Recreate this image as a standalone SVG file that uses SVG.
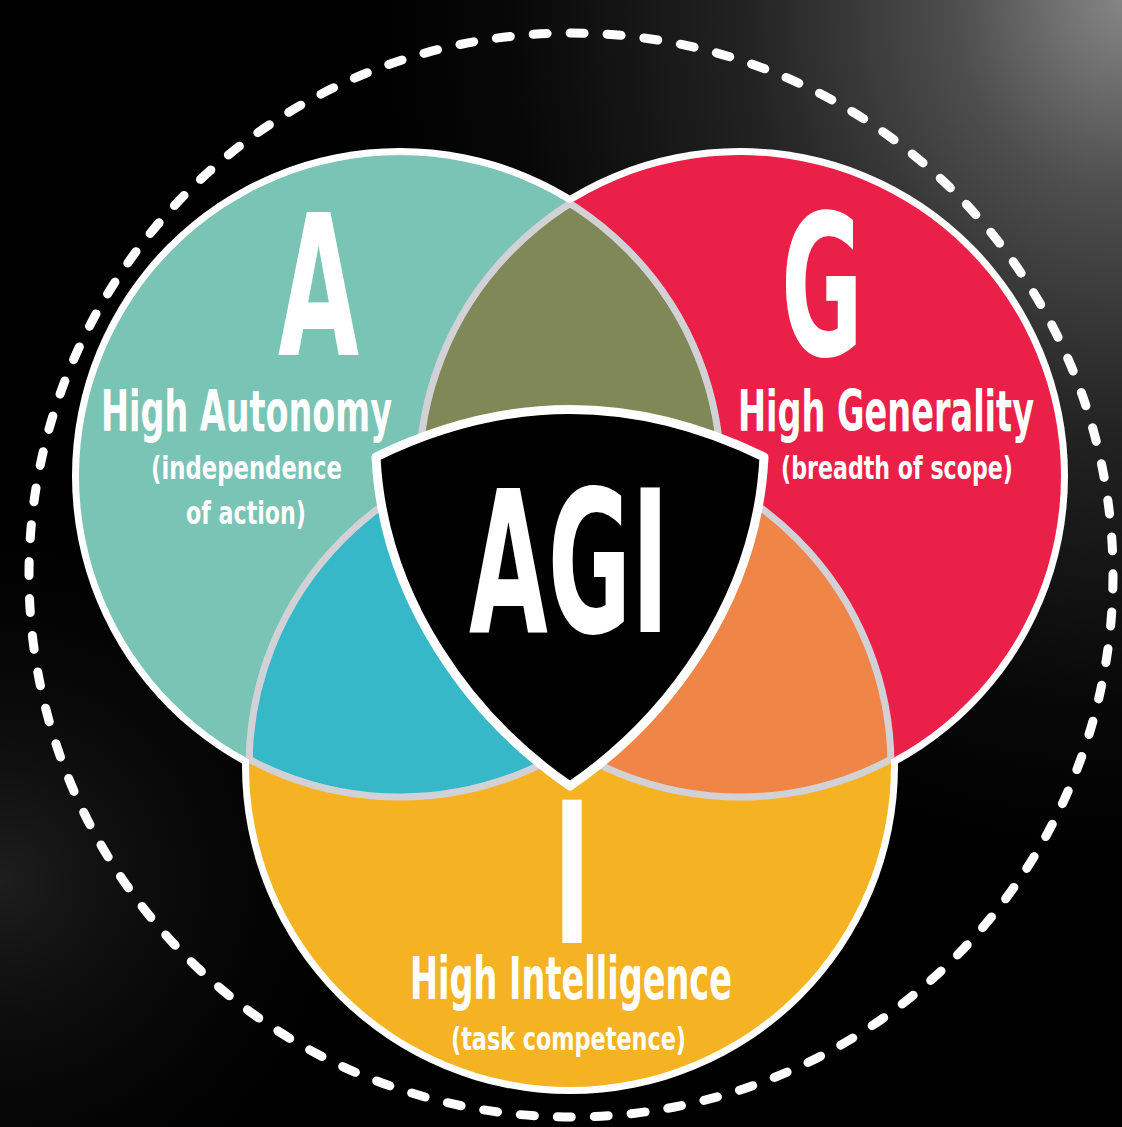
<svg xmlns="http://www.w3.org/2000/svg" xmlns:xlink="http://www.w3.org/1999/xlink" width="1122" height="1127" viewBox="0 0 1122 1127">
  <defs>
    <radialGradient id="glow" gradientUnits="userSpaceOnUse" cx="1122" cy="0" r="760" gradientTransform="translate(1122 0) scale(1 1.15) translate(-1122 0)">
      <stop offset="0" stop-color="#858585"/>
      <stop offset="0.22" stop-color="#4e4e4e"/>
      <stop offset="0.5" stop-color="#222"/>
      <stop offset="0.8" stop-color="#080808"/>
      <stop offset="1" stop-color="#000"/>
    </radialGradient>
    <radialGradient id="glow2" gradientUnits="userSpaceOnUse" cx="0" cy="880" r="420">
      <stop offset="0" stop-color="#1e1e1e"/>
      <stop offset="1" stop-color="#000" stop-opacity="0"/>
    </radialGradient>
    <circle id="cA" cx="400" cy="476" r="321"/>
    <circle id="cG" cx="740" cy="476" r="321"/>
    <circle id="cI" cx="570" cy="766" r="321"/>
    <clipPath id="inA"><use xlink:href="#cA"/></clipPath>
    <clipPath id="inG"><use xlink:href="#cG"/></clipPath>
    <clipPath id="inGI"><use xlink:href="#cG"/><use xlink:href="#cI"/></clipPath>
    <clipPath id="inAI"><use xlink:href="#cA"/><use xlink:href="#cI"/></clipPath>
    <clipPath id="inAG"><use xlink:href="#cA"/><use xlink:href="#cG"/></clipPath>
  </defs>
  <style>
    .lbl { font-family: 'Liberation Sans Narrow', 'DejaVu Sans Condensed', 'Liberation Sans', sans-serif; font-weight: bold; fill: #ffffff; }
    .inner { fill: none; stroke: #d2d2d6; stroke-width: 7; }
    .edge { fill: #ffffff; }
  </style>

  <rect x="0" y="0" width="1122" height="1127" fill="#000"/>
  <rect x="0" y="0" width="1122" height="1127" fill="url(#glow)"/>
  <rect x="0" y="0" width="1122" height="1127" fill="url(#glow2)"/>

  <g id="outer-ring">
    <circle cx="571" cy="575" r="542" fill="none" stroke="#ffffff" stroke-width="9" stroke-linecap="round" stroke-dasharray="14 23"/>
  </g>

  <g id="outline">
    <circle class="edge" cx="400" cy="476" r="328"/>
    <circle class="edge" cx="740" cy="476" r="328"/>
    <circle class="edge" cx="570" cy="766" r="328"/>
  </g>

  <g id="node-A"><use xlink:href="#cA" fill="#79c4b4"/></g>
  <g id="node-G"><use xlink:href="#cG" fill="#eb2049"/></g>
  <g id="node-I"><use xlink:href="#cI" fill="#f5b324"/></g>

  <g id="overlaps">
    <use xlink:href="#cG" fill="#7f8856" clip-path="url(#inA)"/>
    <use xlink:href="#cI" fill="#36b8c8" clip-path="url(#inA)"/>
    <use xlink:href="#cI" fill="#ef8647" clip-path="url(#inG)"/>
  </g>

  <g id="connectors">
    <use xlink:href="#cA" class="inner" clip-path="url(#inGI)"/>
    <use xlink:href="#cG" class="inner" clip-path="url(#inAI)"/>
    <use xlink:href="#cI" class="inner" clip-path="url(#inAG)"/>
  </g>

  <g id="node-AGI">
    <path d="M376,457 Q570,362 764,457 C757,600 668,719 570,786 C472,719 383,600 376,457 Z" fill="#000" stroke="#ffffff" stroke-width="9" stroke-linejoin="round"/>
    <text class="lbl" x="469" y="632" font-size="198" textLength="200" lengthAdjust="spacingAndGlyphs">AGI</text>
  </g>

  <g id="label-A">
    <text class="lbl" x="278" y="355" font-size="197" textLength="81" lengthAdjust="spacingAndGlyphs">A</text>
    <text class="lbl" x="101" y="431" font-size="57" textLength="291" lengthAdjust="spacingAndGlyphs">High Autonomy</text>
    <text class="lbl" x="151" y="479" font-size="32" textLength="191" lengthAdjust="spacingAndGlyphs">(independence</text>
    <text class="lbl" x="186" y="524" font-size="32" textLength="120" lengthAdjust="spacingAndGlyphs">of action)</text>
  </g>

  <g id="label-G">
    <text class="lbl" x="781" y="355" font-size="197" textLength="82" lengthAdjust="spacingAndGlyphs">G</text>
    <text class="lbl" x="738" y="431" font-size="57" textLength="296" lengthAdjust="spacingAndGlyphs">High Generality</text>
    <text class="lbl" x="781" y="479" font-size="32" textLength="232" lengthAdjust="spacingAndGlyphs">(breadth of scope)</text>
  </g>

  <g id="label-I">
    <text class="lbl" x="553" y="943" font-size="197" textLength="38" lengthAdjust="spacingAndGlyphs">I</text>
    <text class="lbl" x="410" y="999" font-size="59" textLength="322" lengthAdjust="spacingAndGlyphs">High Intelligence</text>
    <text class="lbl" x="451" y="1050" font-size="32" textLength="235" lengthAdjust="spacingAndGlyphs">(task competence)</text>
  </g>
</svg>
